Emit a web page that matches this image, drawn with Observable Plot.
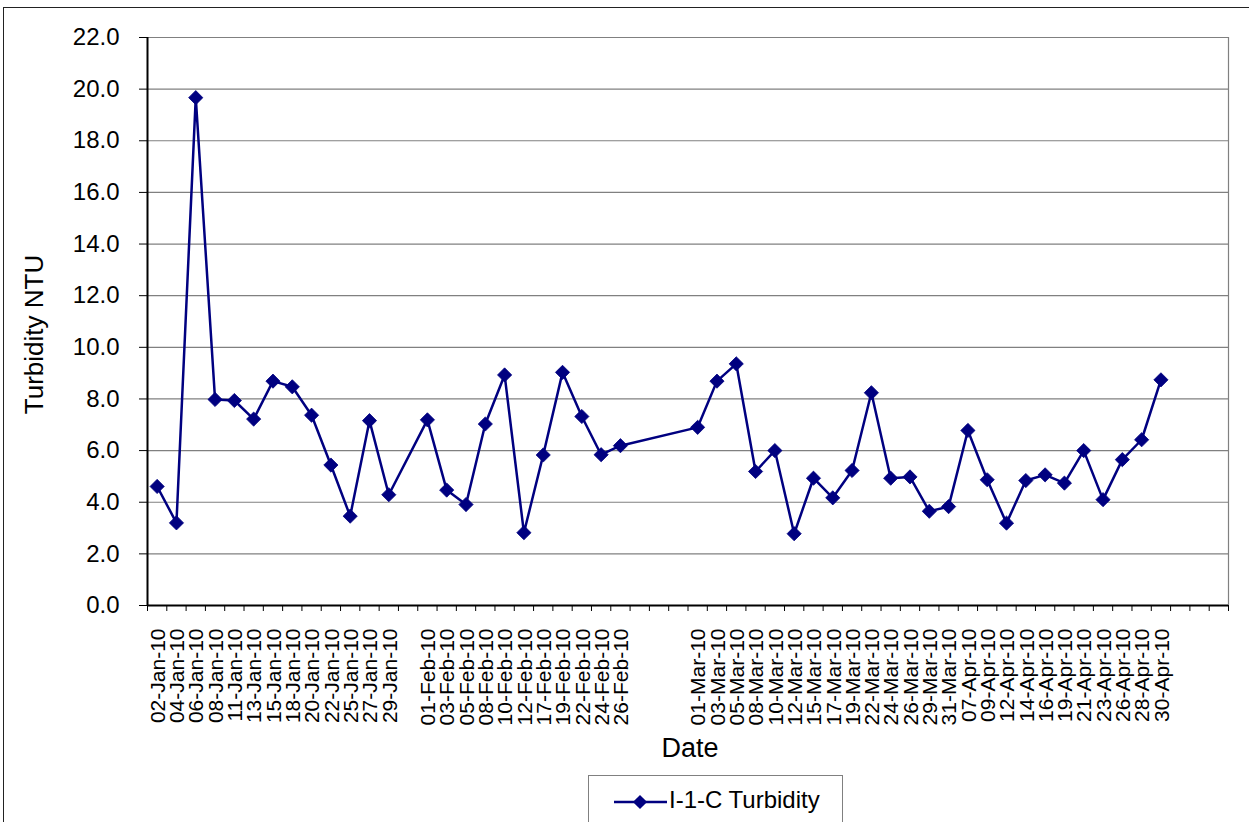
<!DOCTYPE html>
<html>
<head>
<meta charset="utf-8">
<script src="https://cdn.jsdelivr.net/npm/d3@7"></script>
<script src="https://cdn.jsdelivr.net/npm/@observablehq/plot@0.6"></script>
<style>
  html, body { margin: 0; padding: 0; background: #fff; }
  #wrap { position: relative; width: 1249px; height: 822px; overflow: hidden; font-family: "Liberation Sans", Arial, sans-serif; }
  #frame { position: absolute; left: 3px; top: 7px; width: 1300px; height: 900px; border-left: 1px solid #222; border-top: 1px solid #222; box-sizing: border-box; }
  #chart { position: absolute; left: 0; top: 0; }
  #legend { position: absolute; left: 588px; top: 775px; width: 255px; height: 60px; border: 1px solid #808080; background: #fff; box-sizing: border-box; }
  #legend .txt { position: absolute; left: 80px; top: 10px; font-size: 24px; color: #000; white-space: nowrap; }
  #legend svg { position: absolute; left: 24px; top: 14px; }
</style>
</head>
<body>
<div id="wrap">
  <div id="frame"></div>
  <div id="chart"></div>
  <div id="legend"><svg id="legsym" width="56" height="24"></svg><span class="txt">I-1-C Turbidity</span></div>
</div>
<script>
// Category slots (empty strings are blank category slots on the Excel axis)
const dates = [
  "02-Jan-10","04-Jan-10","06-Jan-10","08-Jan-10","11-Jan-10","13-Jan-10","15-Jan-10","18-Jan-10","20-Jan-10","22-Jan-10","25-Jan-10","27-Jan-10","29-Jan-10",
  "",
  "01-Feb-10","03-Feb-10","05-Feb-10","08-Feb-10","10-Feb-10","12-Feb-10","17-Feb-10","19-Feb-10","22-Feb-10","24-Feb-10","26-Feb-10",
  "","","",
  "01-Mar-10","03-Mar-10","05-Mar-10","08-Mar-10","10-Mar-10","12-Mar-10","15-Mar-10","17-Mar-10","19-Mar-10","22-Mar-10","24-Mar-10","26-Mar-10","29-Mar-10","31-Mar-10",
  "07-Apr-10","09-Apr-10","12-Apr-10","14-Apr-10","16-Apr-10","19-Apr-10","21-Apr-10","23-Apr-10","26-Apr-10","28-Apr-10","30-Apr-10",
  "","",""
];
// I-1-C Turbidity (NTU); null = no value in that slot
const turbidity = [
  4.61,3.20,19.67,7.98,7.94,7.22,8.69,8.47,7.37,5.44,3.46,7.16,4.29,
  null,
  7.19,4.47,3.91,7.03,8.93,2.82,5.83,9.03,7.32,5.84,6.19,
  null,null,null,
  6.90,8.69,9.36,5.19,6.00,2.78,4.93,4.17,5.23,8.24,4.93,4.98,3.65,3.83,
  6.78,4.87,3.19,4.84,5.06,4.74,6.00,4.10,5.65,6.42,8.74,
  null,null,null
];
const yTicks = [0, 2, 4, 6, 8, 10, 12, 14, 16, 18, 20, 22];
const seriesName = "I-1-C Turbidity";
const yTitle = "Turbidity NTU";
const xTitle = "Date";
const navy = "#000080";

const rows = dates.map((date, i) => ({slot: i, date, value: turbidity[i]}));
const pts = rows.filter(r => r.value != null);
const labelled = rows.filter(r => r.date !== "");
const xc = d => d.slot + 0.5;
const boundaries = d3.range(0, dates.length + 1);

const chart = Plot.plot({
  width: 1249,
  height: 770,
  marginLeft: 147,
  marginRight: 21,
  marginTop: 37,
  marginBottom: 165,
  style: {fontFamily: '"Liberation Sans", Arial, sans-serif', background: "transparent", color: "#000"},
  x: {domain: [0, dates.length], axis: null},
  y: {domain: [0, 22], axis: null},
  marks: [
    Plot.gridY(yTicks.filter(t => t > 0), {stroke: "#808080", strokeOpacity: 1, strokeWidth: 1.2}),
    Plot.ruleX([dates.length], {stroke: "#808080", strokeWidth: 1.2}),
    Plot.axisY({ticks: yTicks, tickFormat: d => d.toFixed(1), tickSize: 8, tickPadding: 20, fontSize: 24, label: null, stroke: "#000"}),
    Plot.axisX({ticks: boundaries, tickFormat: () => "", tickSize: 6, label: null, stroke: "#000"}),
    Plot.text(labelled, {x: xc, frameAnchor: "bottom", text: "date", rotate: -90, textAnchor: "end", lineAnchor: "middle", dx: 1, dy: 23, fontSize: 21, fill: "#000"}),
    Plot.text([yTitle], {frameAnchor: "left", text: d => d, rotate: -90, textAnchor: "middle", lineAnchor: "middle", dx: -113, dy: 13, fontSize: 26, fill: "#000"}),
    Plot.text([xTitle], {frameAnchor: "bottom", text: d => d, textAnchor: "middle", lineAnchor: "bottom", dx: 2, dy: 151, fontSize: 27, fill: "#000"}),
    Plot.ruleY([0], {stroke: "#000", strokeWidth: 2}),
    Plot.ruleX([0], {stroke: "#000", strokeWidth: 2}),
    Plot.line(pts, {x: xc, y: "value", stroke: navy, strokeWidth: 2.5}),
    Plot.dot(pts, {x: xc, y: "value", symbol: "diamond2", r: 6.4, fill: navy, stroke: navy, strokeWidth: 0.8})
  ]
});
document.getElementById("chart").appendChild(chart);

// legend symbol
const lg = d3.select("#legsym");
lg.append("line").attr("x1", 1).attr("x2", 54).attr("y1", 12).attr("y2", 12).attr("stroke", navy).attr("stroke-width", 2.5);
lg.append("path").attr("d", d3.symbol(d3.symbolDiamond2, Math.PI * 6.4 * 6.4)()).attr("transform", "translate(27,12)").attr("fill", navy);
</script>
</body>
</html>
